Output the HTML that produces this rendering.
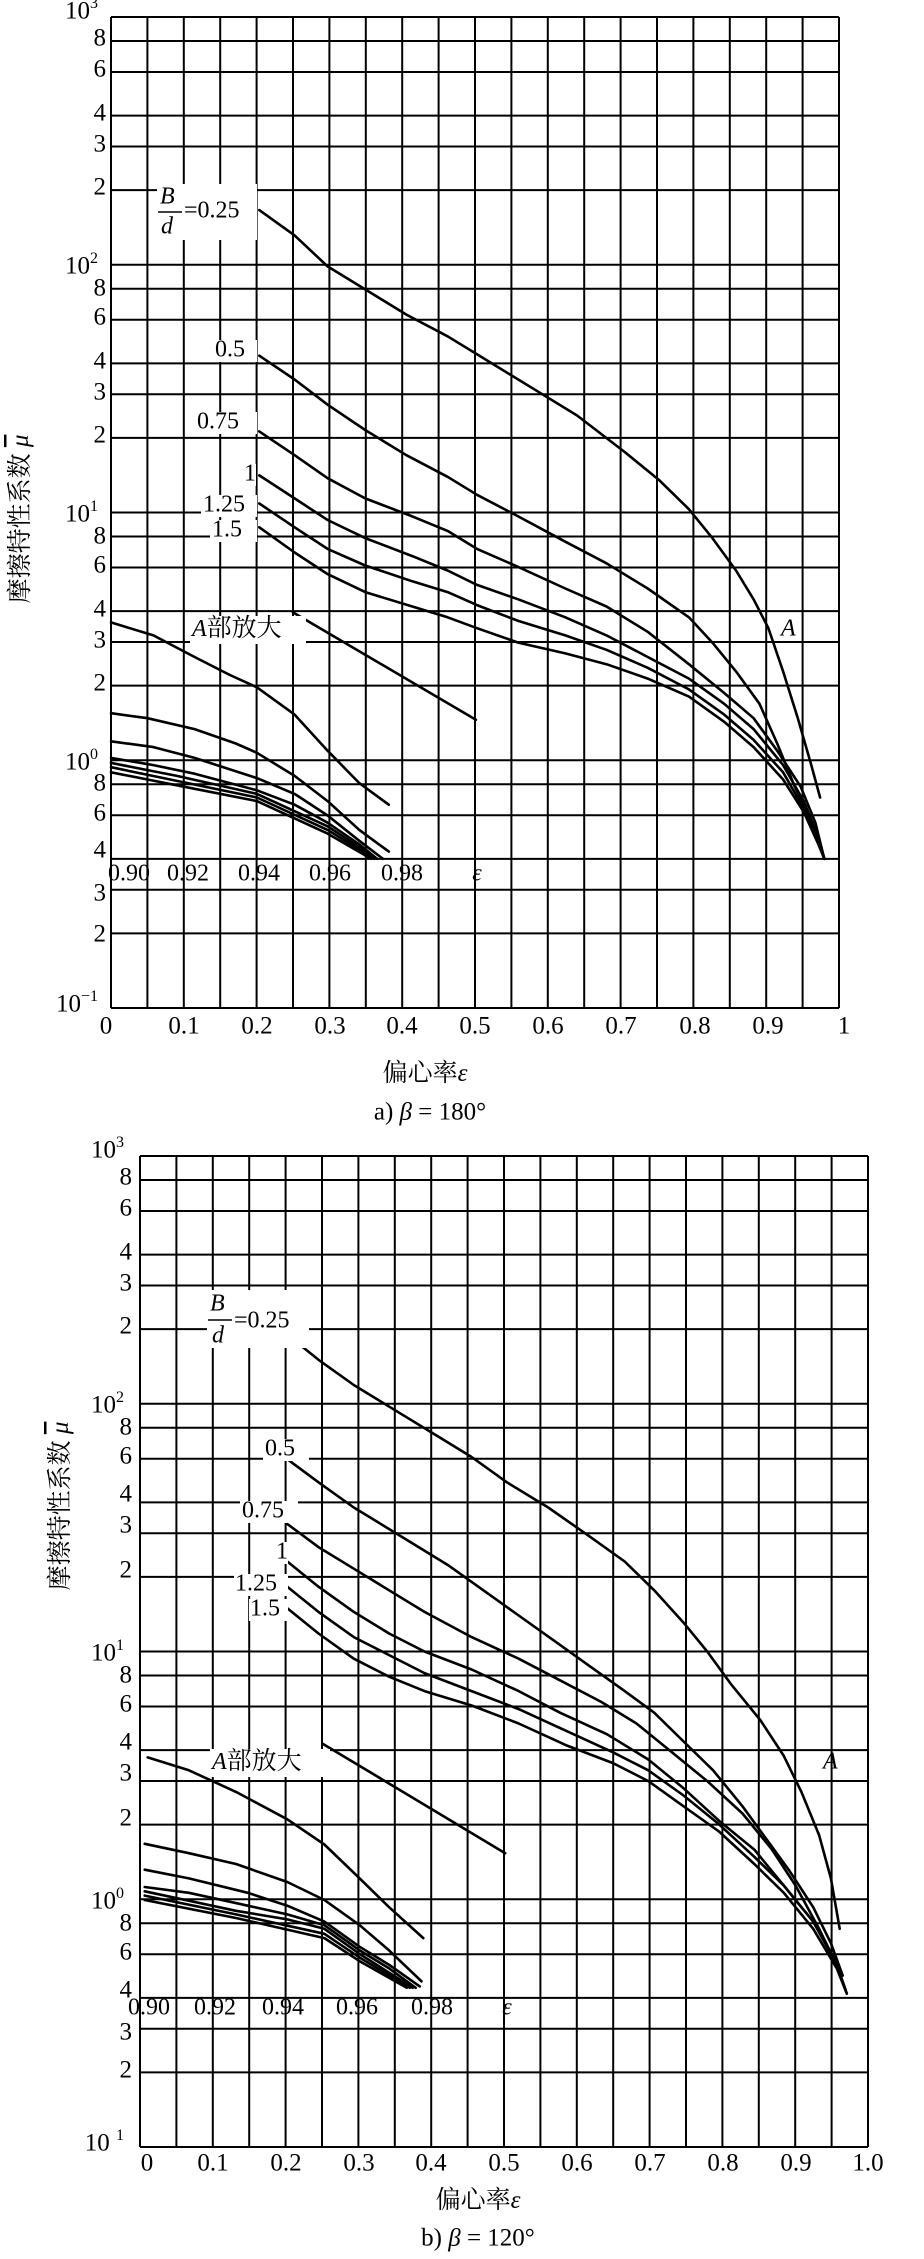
<!DOCTYPE html>
<html><head><meta charset="utf-8"><style>
html,body{margin:0;padding:0;background:#fff;}
svg{display:block;}
text{font-family:"Liberation Serif","Noto Serif CJK SC",serif;fill:#000;}
.yl{font-size:25px;text-anchor:end;dominant-baseline:middle;}
.xl{font-size:25px;text-anchor:middle;dominant-baseline:middle;}
.lb{font-size:24px;dominant-baseline:middle;}
.ml{font-size:24px;text-anchor:middle;dominant-baseline:middle;}
.cj{font-family:"Noto Serif CJK SC",serif;font-size:25px;}
</style></head><body>
<svg id="s" width="924" height="2259" viewBox="0 0 924 2259" xmlns="http://www.w3.org/2000/svg">
<rect width="924" height="2259" fill="#fff"/>
<g id="grid" stroke="#000" stroke-width="2" fill="none"></g>
<g id="curves" stroke="#000" stroke-width="2.6" fill="none" stroke-linejoin="round" stroke-linecap="round"></g>

<!-- Chart a labels -->
<g>
<rect x="157" y="184" width="100" height="56" fill="#fff"/>
<text x="160" y="198" class="lb" font-style="italic">B</text>
<line x1="158" y1="212" x2="182" y2="212" stroke="#000" stroke-width="1.5"/>
<text x="161" y="228" class="lb" font-style="italic">d</text>
<text x="184" y="212" class="lb">=0.25</text>
<rect x="213" y="340" width="44" height="22" fill="#fff"/><text x="215" y="351" class="lb">0.5</text>
<rect x="195" y="412" width="62" height="22" fill="#fff"/><text x="197" y="423" class="lb">0.75</text>
<rect x="242" y="464" width="14" height="22" fill="#fff"/><text x="244" y="475" class="lb">1</text>
<rect x="201" y="495" width="56" height="22" fill="#fff"/><text x="203" y="506" class="lb">1.25</text>
<rect x="210" y="520" width="47" height="22" fill="#fff"/><text x="212" y="531" class="lb">1.5</text>
<rect x="190" y="616" width="116" height="28" fill="#fff"/>
<text x="192" y="630" class="lb"><tspan font-style="italic">A</tspan><tspan class="cj">部放大</tspan></text>
<text x="781" y="630" class="lb" font-style="italic">A</text>
<text x="129" y="875" class="ml">0.90</text><text x="188" y="875" class="ml">0.92</text>
<text x="259" y="875" class="ml">0.94</text><text x="330" y="875" class="ml">0.96</text>
<text x="402" y="875" class="ml">0.98</text><text x="477" y="875" class="ml" font-style="italic">ε</text>
</g>
<g>
<text x="98" y="13" class="yl">10<tspan font-size="16" dy="-9">3</tspan></text>
<text x="106" y="40" class="yl">8</text><text x="106" y="71" class="yl">6</text>
<text x="106" y="115" class="yl">4</text><text x="106" y="146" class="yl">3</text>
<text x="106" y="189" class="yl">2</text>
<text x="98" y="268" class="yl">10<tspan font-size="16" dy="-9">2</tspan></text>
<text x="106" y="290" class="yl">8</text><text x="106" y="319" class="yl">6</text>
<text x="106" y="363" class="yl">4</text><text x="106" y="394" class="yl">3</text>
<text x="106" y="437" class="yl">2</text>
<text x="98" y="516" class="yl">10<tspan font-size="16" dy="-9">1</tspan></text>
<text x="106" y="538" class="yl">8</text><text x="106" y="567" class="yl">6</text>
<text x="106" y="611" class="yl">4</text><text x="106" y="642" class="yl">3</text>
<text x="106" y="685" class="yl">2</text>
<text x="98" y="764" class="yl">10<tspan font-size="16" dy="-9">0</tspan></text>
<text x="106" y="785" class="yl">8</text><text x="106" y="815" class="yl">6</text>
<text x="106" y="852" class="yl">4</text><text x="106" y="895" class="yl">3</text>
<text x="106" y="936" class="yl">2</text>
<text x="98" y="1006" class="yl">10<tspan font-size="16" dy="-9">−1</tspan></text>
<text x="106" y="1028" class="xl">0</text><text x="184" y="1028" class="xl">0.1</text>
<text x="257" y="1028" class="xl">0.2</text><text x="330" y="1028" class="xl">0.3</text>
<text x="402" y="1028" class="xl">0.4</text><text x="475" y="1028" class="xl">0.5</text>
<text x="548" y="1028" class="xl">0.6</text><text x="621" y="1028" class="xl">0.7</text>
<text x="695" y="1028" class="xl">0.8</text><text x="768" y="1028" class="xl">0.9</text>
<text x="844" y="1028" class="xl">1</text>
<text x="425" y="1075" class="xl"><tspan class="cj">偏心率</tspan><tspan font-style="italic">ε</tspan></text>
<text x="430" y="1114" class="xl">a) <tspan font-style="italic">β</tspan> = 180°</text>
<text transform="translate(22,519) rotate(-90)" class="xl"><tspan class="cj">摩擦特性系数</tspan> <tspan font-style="italic" text-decoration="overline">μ</tspan></text>
</g>

<!-- Chart b labels -->
<g>
<rect x="207" y="1290" width="102" height="58" fill="#fff"/>
<text x="210" y="1305" class="lb" font-style="italic">B</text>
<line x1="208" y1="1320" x2="232" y2="1320" stroke="#000" stroke-width="1.5"/>
<text x="212" y="1337" class="lb" font-style="italic">d</text>
<text x="234" y="1322" class="lb">=0.25</text>
<rect x="263" y="1439" width="46" height="22" fill="#fff"/><text x="265" y="1450" class="lb">0.5</text>
<rect x="240" y="1501" width="58" height="22" fill="#fff"/><text x="242" y="1512" class="lb">0.75</text>
<rect x="274" y="1542" width="14" height="22" fill="#fff"/><text x="276" y="1553" class="lb">1</text>
<rect x="234" y="1574" width="54" height="22" fill="#fff"/><text x="235" y="1585" class="lb">1.25</text>
<rect x="249" y="1599" width="39" height="22" fill="#fff"/><text x="250" y="1610" class="lb">1.5</text>
<rect x="210" y="1749" width="120" height="28" fill="#fff"/>
<text x="212" y="1763" class="lb"><tspan font-style="italic">A</tspan><tspan class="cj">部放大</tspan></text>
<text x="823" y="1763" class="lb" font-style="italic">A</text>
<text x="149" y="2009" class="ml">0.90</text><text x="215" y="2009" class="ml">0.92</text>
<text x="283" y="2009" class="ml">0.94</text><text x="357" y="2009" class="ml">0.96</text>
<text x="432" y="2009" class="ml">0.98</text><text x="507" y="2009" class="ml" font-style="italic">ε</text>
</g>
<g>
<text x="124" y="1152" class="yl">10<tspan font-size="16" dy="-9">3</tspan></text>
<text x="132" y="1179" class="yl">8</text><text x="132" y="1210" class="yl">6</text>
<text x="132" y="1254" class="yl">4</text><text x="132" y="1285" class="yl">3</text>
<text x="132" y="1328" class="yl">2</text>
<text x="124" y="1407" class="yl">10<tspan font-size="16" dy="-9">2</tspan></text>
<text x="132" y="1429" class="yl">8</text><text x="132" y="1458" class="yl">6</text>
<text x="132" y="1496" class="yl">4</text><text x="132" y="1527" class="yl">3</text>
<text x="132" y="1572" class="yl">2</text>
<text x="124" y="1655" class="yl">10<tspan font-size="16" dy="-9">1</tspan></text>
<text x="132" y="1677" class="yl">8</text><text x="132" y="1706" class="yl">6</text>
<text x="132" y="1744" class="yl">4</text><text x="132" y="1775" class="yl">3</text>
<text x="132" y="1820" class="yl">2</text>
<text x="124" y="1903" class="yl">10<tspan font-size="16" dy="-9">0</tspan></text>
<text x="132" y="1925" class="yl">8</text><text x="132" y="1954" class="yl">6</text>
<text x="132" y="1992" class="yl">4</text><text x="132" y="2034" class="yl">3</text>
<text x="132" y="2072" class="yl">2</text>
<text x="124" y="2145" class="yl">10 <tspan font-size="16" dy="-9">1</tspan></text>
<text x="147" y="2165" class="xl">0</text><text x="213" y="2165" class="xl">0.1</text>
<text x="286" y="2165" class="xl">0.2</text><text x="359" y="2165" class="xl">0.3</text>
<text x="431" y="2165" class="xl">0.4</text><text x="504" y="2165" class="xl">0.5</text>
<text x="577" y="2165" class="xl">0.6</text><text x="650" y="2165" class="xl">0.7</text>
<text x="723" y="2165" class="xl">0.8</text><text x="796" y="2165" class="xl">0.9</text>
<text x="868" y="2165" class="xl">1.0</text>
<text x="478" y="2202" class="xl"><tspan class="cj">偏心率</tspan><tspan font-style="italic">ε</tspan></text>
<text x="478" y="2240" class="xl">b) <tspan font-style="italic">β</tspan> = 120°</text>
<text transform="translate(62,1506) rotate(-90)" class="xl"><tspan class="cj">摩擦特性系数</tspan> <tspan font-style="italic" text-decoration="overline">μ</tspan></text>
</g>
</svg>
<script>
(function(){
var NS="http://www.w3.org/2000/svg";
var grid=document.getElementById('grid'),cur=document.getElementById('curves');
function ln(x1,y1,x2,y2){var l=document.createElementNS(NS,'line');l.setAttribute('x1',x1);l.setAttribute('y1',y1);l.setAttribute('x2',x2);l.setAttribute('y2',y2);grid.appendChild(l);}
function chart(L,T,R,B){
  var dec=(B-T)/4;
  ln(L,T,R,T);
  for(var e=2;e>=-1;e--){
    [1,2,3,4,6,8].forEach(function(m){
      var y=T+(3-(e+Math.log10(m)))*dec; ln(L,y,R,y);
    });
  }
  for(var i=0;i<=20;i++){var x=L+(R-L)*i/20;ln(x,T,x,B);}
}
chart(111,17,839,1008);
chart(140,1156,868,2147);
function pl(pts,fx,fy){
  var p=document.createElementNS(NS,'polyline');var s=[];
  for(var i=0;i<pts.length;i+=2){s.push(fx(pts[i]).toFixed(1)+','+fy(pts[i+1]).toFixed(1));}
  p.setAttribute('points',s.join(' '));cur.appendChild(p);
}
var ax=function(x){return 111+(x-188)*0.5885;},ay=function(y){return 17+(y-22)*0.7207;};
var bx=function(x){return 140+(x-237)*0.589;},by=function(y){return 1156+(y-37)*0.7202;};
var A=[
[440,290,500,325,556,368,620,400,690,435,760,465,820,495,900,535,980,575,1060,625,1120,665,1170,705,1210,745,1250,790,1280,830,1305,870,1330,930,1355,995,1378,1060,1393,1105],
[440,492,500,525,556,560,620,595,690,630,760,660,810,685,880,715,960,750,1030,780,1100,815,1170,855,1210,890,1250,930,1290,975,1320,1030,1350,1090,1380,1140,1400,1190],
[440,597,500,630,556,662,620,690,700,715,760,735,810,760,880,785,960,815,1030,840,1100,875,1170,920,1230,960,1280,995,1320,1040,1360,1090,1385,1140,1400,1190],
[440,658,500,690,556,720,620,745,700,770,760,790,810,810,880,830,960,855,1030,880,1100,910,1170,940,1230,975,1280,1010,1330,1060,1365,1110,1390,1160,1400,1190],
[440,697,500,730,556,760,620,783,700,805,760,820,810,838,880,860,960,880,1030,900,1100,925,1170,955,1230,990,1280,1025,1330,1070,1365,1120,1390,1165,1400,1190],
[440,730,500,765,556,795,620,820,700,840,760,855,810,870,880,890,960,905,1030,920,1100,940,1170,965,1230,1000,1280,1035,1330,1080,1365,1125,1390,1170,1400,1190],
[188,862,260,880,330,910,390,935,436,952,500,990,556,1040,610,1085,660,1115],
[497,848,808,997],
[188,988,250,995,330,1010,400,1030,436,1043,500,1075,556,1110,610,1150,660,1180],
[188,1027,260,1035,330,1050,436,1078,500,1100,556,1130,610,1165,650,1190],
[188,1050,260,1060,330,1072,436,1095,500,1115,556,1140,610,1170,640,1190],
[188,1057,300,1075,436,1100,556,1145,640,1190],
[188,1063,300,1082,436,1105,556,1150,635,1190],
[188,1070,300,1088,436,1110,556,1155,630,1190]
];
A.forEach(function(p){pl(p,ax,ay);});
var Bc=[
[487,285,540,320,600,355,670,390,740,425,800,455,860,490,930,525,1000,565,1060,600,1110,640,1160,685,1200,725,1240,770,1290,820,1330,870,1360,920,1390,980,1410,1040,1425,1110],
[487,458,540,490,600,525,640,545,700,575,760,605,820,640,880,675,940,710,1000,745,1060,780,1110,810,1160,850,1210,890,1260,940,1300,985,1340,1030,1380,1080,1410,1130,1430,1175],
[487,548,540,580,600,610,660,640,720,670,800,705,880,735,950,765,1020,795,1080,825,1140,865,1200,905,1260,950,1310,1000,1350,1050,1390,1110,1420,1160,1435,1195],
[487,600,540,635,600,670,660,700,720,725,800,750,880,780,950,810,1030,840,1100,875,1160,915,1220,960,1280,1000,1330,1050,1380,1100,1415,1150,1435,1195],
[487,635,540,670,600,705,660,730,720,755,800,780,880,805,960,835,1040,865,1100,890,1160,925,1220,965,1280,1010,1330,1050,1380,1100,1420,1160,1437,1200],
[487,665,540,700,600,735,660,760,720,780,800,800,880,825,960,855,1040,880,1100,905,1160,940,1220,975,1280,1020,1330,1060,1380,1110,1420,1165,1437,1200],
[250,872,320,890,400,920,487,958,550,993,610,1040,660,1080,718,1123],
[547,853,857,1005],
[245,992,320,1005,400,1020,487,1045,550,1070,610,1105,660,1140,715,1183],
[245,1028,320,1040,420,1060,487,1078,550,1100,610,1135,660,1160,712,1190],
[245,1052,320,1060,420,1078,487,1090,550,1105,610,1140,660,1165,705,1192],
[245,1058,400,1085,487,1097,550,1110,610,1145,700,1192],
[245,1064,400,1090,550,1117,610,1150,695,1192],
[245,1070,400,1095,550,1123,610,1155,690,1192]
];
Bc.forEach(function(p){pl(p,bx,by);});
var s=document.getElementById('s');
var gs=[].slice.call(s.children).filter(function(g){return g.tagName==='g'&&!g.id;});
gs.forEach(function(g){s.appendChild(g);});
})();
</script>
</body></html>
